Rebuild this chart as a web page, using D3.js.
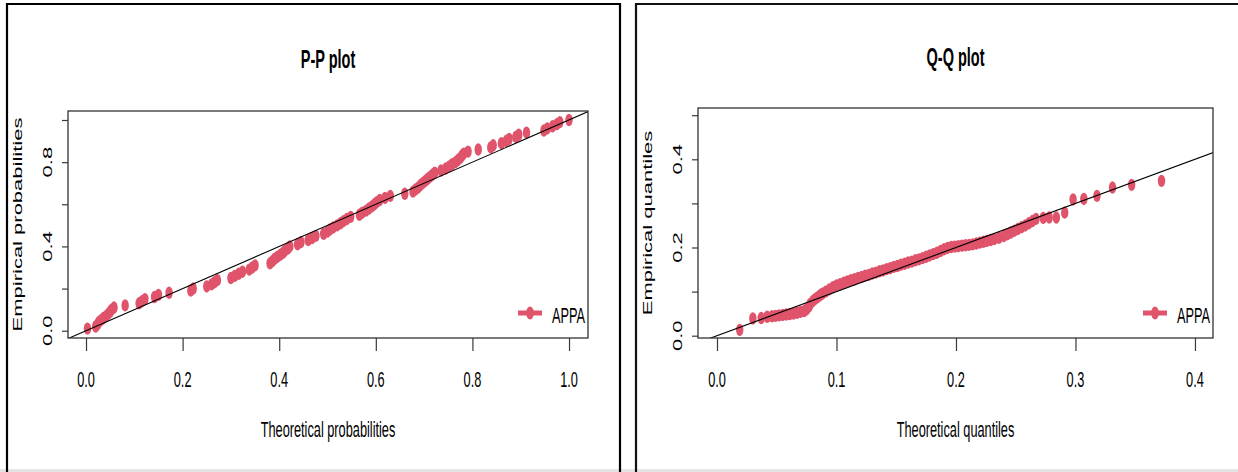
<!DOCTYPE html>
<html>
<head>
<meta charset="utf-8">
<script src="https://cdn.jsdelivr.net/npm/d3@7/dist/d3.min.js"></script>
<style>
  body { margin: 0; background: #fff; }
  svg { display: block; font-family: "Liberation Sans", Arial, sans-serif; }
</style>
</head>
<body>
<div id="chart"></div>
<script>
// P-P plot: theoretical vs empirical probabilities
var ppTheo = [0.003, 0.020, 0.024, 0.026, 0.031, 0.036, 0.042, 0.046, 0.050, 0.053,
              0.058, 0.081, 0.110, 0.116, 0.122, 0.142, 0.150, 0.172, 0.217, 0.222,
              0.250, 0.260, 0.266, 0.272, 0.300, 0.308, 0.316, 0.324, 0.338, 0.344,
              0.350, 0.381, 0.386, 0.390, 0.396, 0.402, 0.408, 0.412, 0.418, 0.422,
              0.438, 0.445, 0.460, 0.468, 0.476, 0.492, 0.500, 0.505, 0.512, 0.520,
              0.527, 0.533, 0.540, 0.548, 0.566, 0.572, 0.580, 0.586, 0.592, 0.597,
              0.602, 0.608, 0.619, 0.630, 0.660, 0.677, 0.682, 0.688, 0.692, 0.697,
              0.702, 0.707, 0.712, 0.717, 0.722, 0.735, 0.745, 0.752, 0.758, 0.765,
              0.770, 0.775, 0.778, 0.782, 0.791, 0.812, 0.838, 0.843, 0.860, 0.870,
              0.876, 0.890, 0.896, 0.912, 0.948, 0.955, 0.966, 0.975, 0.981, 1.000];
var ppEmp = [0.01, 0.02, 0.03, 0.04, 0.05, 0.06, 0.07, 0.08, 0.09, 0.10,
             0.11, 0.12, 0.13, 0.14, 0.15, 0.16, 0.17, 0.18, 0.19, 0.20,
             0.21, 0.22, 0.23, 0.24, 0.25, 0.26, 0.27, 0.28, 0.29, 0.30,
             0.31, 0.32, 0.33, 0.34, 0.35, 0.36, 0.37, 0.38, 0.39, 0.40,
             0.41, 0.42, 0.43, 0.44, 0.45, 0.46, 0.47, 0.48, 0.49, 0.50,
             0.51, 0.52, 0.53, 0.54, 0.55, 0.56, 0.57, 0.58, 0.59, 0.60,
             0.61, 0.62, 0.63, 0.64, 0.65, 0.66, 0.67, 0.68, 0.69, 0.70,
             0.71, 0.72, 0.73, 0.74, 0.75, 0.76, 0.77, 0.78, 0.79, 0.80,
             0.81, 0.82, 0.83, 0.84, 0.85, 0.86, 0.87, 0.88, 0.89, 0.90,
             0.91, 0.92, 0.93, 0.94, 0.95, 0.96, 0.97, 0.98, 0.99, 1.00];

// Q-Q plot: theoretical vs empirical quantiles
var qqTheo = [0.019, 0.030, 0.037, 0.042, 0.046, 0.049, 0.052, 0.055, 0.058, 0.061,
              0.064, 0.067, 0.070, 0.073, 0.075, 0.077, 0.078, 0.080, 0.082, 0.084,
              0.086, 0.088, 0.091, 0.094, 0.097, 0.100, 0.103, 0.106, 0.109, 0.112,
              0.115, 0.118, 0.121, 0.124, 0.127, 0.130, 0.133, 0.136, 0.139, 0.142,
              0.145, 0.148, 0.151, 0.154, 0.157, 0.160, 0.163, 0.166, 0.169, 0.172,
              0.175, 0.178, 0.181, 0.184, 0.187, 0.190, 0.193, 0.196, 0.199, 0.202,
              0.205, 0.208, 0.211, 0.214, 0.217, 0.220, 0.223, 0.226, 0.229, 0.232,
              0.236, 0.240, 0.243, 0.246, 0.249, 0.252, 0.255, 0.258, 0.261, 0.264,
              0.267, 0.273, 0.278, 0.284, 0.291, 0.298, 0.307, 0.318, 0.331, 0.347,
              0.372];
var qqEmp = [0.013, 0.039, 0.040, 0.043, 0.044, 0.045, 0.046, 0.047, 0.048, 0.049,
             0.050, 0.052, 0.054, 0.056, 0.060, 0.066, 0.072, 0.078, 0.083, 0.087,
             0.091, 0.095, 0.100, 0.105, 0.110, 0.114, 0.117, 0.120, 0.123, 0.126,
             0.128, 0.131, 0.133, 0.136, 0.138, 0.141, 0.143, 0.146, 0.148, 0.151,
             0.153, 0.156, 0.158, 0.161, 0.163, 0.166, 0.168, 0.171, 0.173, 0.176,
             0.179, 0.182, 0.185, 0.188, 0.192, 0.196, 0.199, 0.201, 0.202, 0.203,
             0.204, 0.205, 0.206, 0.207, 0.209, 0.211, 0.213, 0.215, 0.217, 0.219,
             0.222, 0.226, 0.230, 0.234, 0.238, 0.242, 0.246, 0.250, 0.255, 0.260,
             0.265, 0.267, 0.268, 0.268, 0.279, 0.309, 0.310, 0.317, 0.336, 0.342,
             0.351];

var ppXTicks = [0, 0.2, 0.4, 0.6, 0.8, 1.0];
var ppYTicks = [0, 0.2, 0.4, 0.6, 0.8, 1.0];
var ppYLabels = [0, 0.4, 0.8];
var qqXTicks = [0, 0.1, 0.2, 0.3, 0.4];
var qqYTicks = [0, 0.1, 0.2, 0.3, 0.4, 0.5];
var qqYLabels = [0, 0.2, 0.4];
var seriesName = "APPA";
var pointColor = "#DF536B";

var width = 1238, height = 472;
var sx = 0.58; // the picture is squeezed horizontally

var svg = d3.select("#chart")
    .append("svg")
    .attr("width", width)
    .attr("height", height);

// outer frames of the two panels
svg.append("rect").attr("x", 0).attr("y", 469).attr("width", width).attr("height", 3).style("fill", "#e4e4e4");
svg.append("path").attr("d", "M7,480 V4 H620 V480")
    .style("fill", "none").style("stroke", "#000").style("stroke-width", 2.2);
svg.append("path").attr("d", "M636,480 V4 H1245")
    .style("fill", "none").style("stroke", "#111").style("stroke-width", 2.2);

function label(x, y, txt, size, opts) {
    opts = opts || {};
    var t = "translate(" + x + "," + y + ") scale(" + sx + ",1)";
    if (opts.rotate) t += " rotate(" + opts.rotate + ")";
    return svg.append("text")
        .attr("transform", t)
        .attr("text-anchor", opts.anchor || "middle")
        .style("font-size", size + "px")
        .style("font-weight", opts.bold ? "bold" : "normal")
        .style("fill", "#000")
        .text(txt);
}

function panel(cfg) {
    var x = d3.scaleLinear().domain(cfg.xDomain).range([cfg.left, cfg.right]);
    var y = d3.scaleLinear().domain(cfg.yDomain).range([cfg.bottom, cfg.top]);
    var g = svg.append("g");

    g.append("clipPath").attr("id", cfg.id + "clip")
        .append("rect")
        .attr("x", cfg.left).attr("y", cfg.top)
        .attr("width", cfg.right - cfg.left).attr("height", cfg.bottom - cfg.top);

    // points
    g.append("g").selectAll("ellipse")
        .data(cfg.xs)
        .enter()
        .append("ellipse")
        .attr("cx", function (d) { return x(d); })
        .attr("cy", function (d, i) { return y(cfg.ys[i]); })
        .attr("rx", 3.7)
        .attr("ry", 6.2)
        .style("fill", pointColor);

    // abline(0, 1)
    g.append("line")
        .attr("clip-path", "url(#" + cfg.id + "clip)")
        .attr("x1", x(-1)).attr("y1", y(-1))
        .attr("x2", x(2)).attr("y2", y(2))
        .style("stroke", "#000").style("stroke-width", 1.1);

    // axes
    var xAxis = g.append("g")
        .attr("transform", "translate(0," + cfg.bottom + ")")
        .call(d3.axisBottom(x).tickValues(cfg.xTicks).tickSize(13).tickSizeOuter(0).tickFormat(""));
    var yAxis = g.append("g")
        .attr("transform", "translate(" + cfg.left + ",0)")
        .call(d3.axisLeft(y).tickValues(cfg.yTicks).tickSize(6).tickSizeOuter(0).tickFormat(""));
    xAxis.select(".domain").remove();
    yAxis.select(".domain").remove();
    g.selectAll(".tick line").style("stroke", "#3a3a3a").style("stroke-width", 1.2);

    // box
    g.append("rect")
        .attr("x", cfg.left).attr("y", cfg.top)
        .attr("width", cfg.right - cfg.left).attr("height", cfg.bottom - cfg.top)
        .style("fill", "none").style("stroke", "#333").style("stroke-width", 1.3);

    cfg.xTicks.forEach(function (v) {
        label(x(v), 387, d3.format(".1f")(v), 22);
    });
    cfg.yLabels.forEach(function (v) {
        label(cfg.yTickBase, y(v), d3.format(".1f")(v), 22, { rotate: -90 });
    });

    label((cfg.left + cfg.right) / 2, cfg.titleY, cfg.title, 25, { bold: true });
    label((cfg.left + cfg.right) / 2, 437, cfg.xlab, 22);
    label(cfg.ylabBase, (cfg.top + cfg.bottom) / 2, cfg.ylab, 22, { rotate: -90 });

    // legend (bottomright)
    var ly = cfg.bottom - 25;
    g.append("line")
        .attr("x1", cfg.right - 70).attr("x2", cfg.right - 46)
        .attr("y1", ly).attr("y2", ly)
        .style("stroke", pointColor).style("stroke-width", 5);
    g.append("ellipse")
        .attr("cx", cfg.right - 58).attr("cy", ly)
        .attr("rx", 3.9).attr("ry", 6.5)
        .style("fill", pointColor);
    label(cfg.right - 36, cfg.bottom - 15, seriesName, 22, { anchor: "start" });
}

panel({
    id: "pp",
    left: 68, right: 588, top: 111, bottom: 338,
    xDomain: [-0.0373, 1.0393], yDomain: [-0.0346, 1.0427],
    xs: ppTheo, ys: ppEmp,
    xTicks: ppXTicks, yTicks: ppYTicks, yLabels: ppYLabels,
    title: "P-P plot", titleY: 68,
    xlab: "Theoretical probabilities", ylab: "Empirical probabilities",
    ylabBase: 22, yTickBase: 52
});

panel({
    id: "qq",
    left: 698, right: 1213, top: 108, bottom: 338,
    xDomain: [-0.0159, 0.4151], yDomain: [-0.0052, 0.5163],
    xs: qqTheo, ys: qqEmp,
    xTicks: qqXTicks, yTicks: qqYTicks, yLabels: qqYLabels,
    title: "Q-Q plot", titleY: 66,
    xlab: "Theoretical quantiles", ylab: "Empirical quantiles",
    ylabBase: 652, yTickBase: 682
});
</script>
</body>
</html>
